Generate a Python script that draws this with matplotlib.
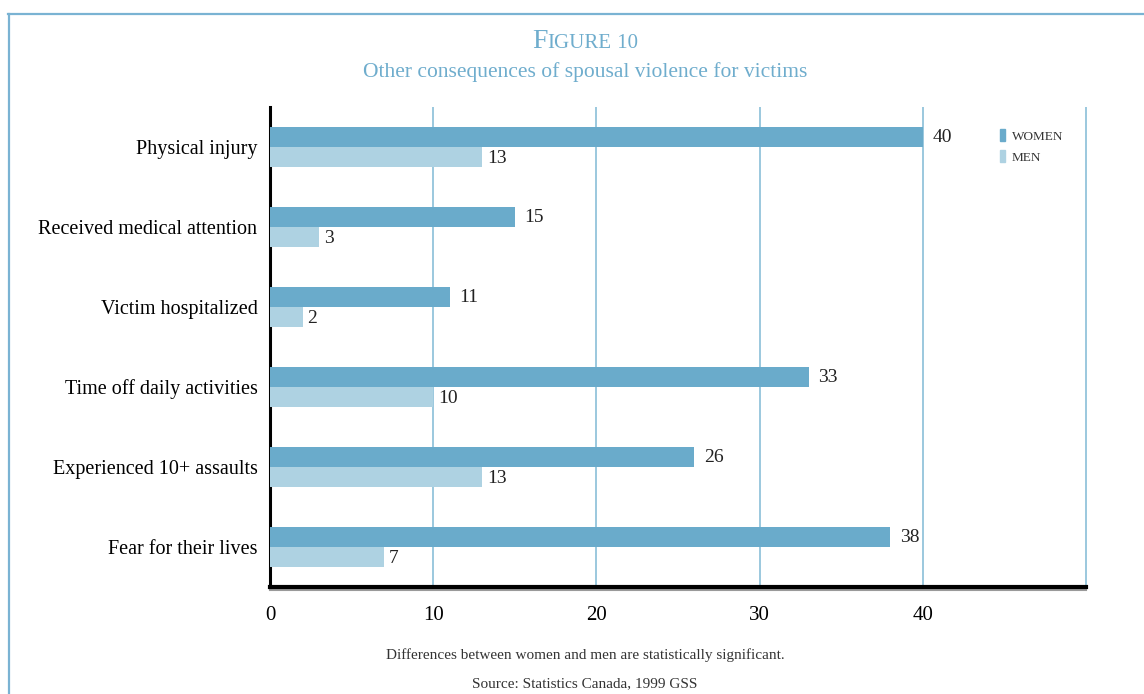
import matplotlib
matplotlib.use("Agg")
import matplotlib.pyplot as plt
from matplotlib.patches import Patch
from matplotlib.lines import Line2D

categories = [
    "Physical injury",
    "Received medical attention",
    "Victim hospitalized",
    "Time off daily activities",
    "Experienced 10+ assaults",
    "Fear for their lives",
]
women = [40, 15, 11, 33, 26, 38]
men = [13, 3, 2, 10, 13, 7]
x_ticks = [0, 10, 20, 30, 40]
grid_lines = [10, 20, 30, 40, 50]

WOMEN_COLOR = "#6aabcb"
MEN_COLOR = "#aed2e2"
ACCENT = "#6fadcd"
SERIF = ["Liberation Serif", "DejaVu Serif"]

plt.rcParams["font.family"] = SERIF

fig = plt.figure(figsize=(11.44, 6.94), dpi=100)
W, H = 1144, 694

# frame around the figure (top and left edges visible)
fig.add_artist(Line2D([8 / W, 1], [1 - 13.5 / H, 1 - 13.5 / H], color="#7ab3d3", lw=1.6))
fig.add_artist(Line2D([8.5 / W, 8.5 / W], [0, 1 - 13.5 / H], color="#7ab3d3", lw=1.6))

ax = fig.add_axes([270 / W, 1 - 587 / H, 816 / W, 480 / H])

ypos = list(range(len(categories)))
bh = 0.25
ax.barh([y - bh / 2 for y in ypos], women, height=bh, color=WOMEN_COLOR, zorder=3)
ax.barh([y + bh / 2 for y in ypos], men, height=bh, color=MEN_COLOR, zorder=3)

for y, v in zip(ypos, women):
    ax.annotate(str(v), (v, y - bh / 2), xytext=(7, 0), textcoords="offset points",
                va="center", ha="left", fontsize=14, color="#222222")
for y, v in zip(ypos, men):
    ax.annotate(str(v), (v, y + bh / 2), xytext=(3.5, -1), textcoords="offset points",
                va="center", ha="left", fontsize=14, color="#222222")

ax.vlines(grid_lines, -0.5, 5.5, colors="#80b9d5", lw=1.1, zorder=1, clip_on=False)

ax.set_xlim(0, 50)
ax.set_ylim(5.5, -0.5)
ax.set_yticks(ypos)
ax.set_yticklabels(categories, fontsize=14.5)
ax.set_xticks(x_ticks)
ax.set_xticklabels([str(t) for t in x_ticks], fontsize=15)
ax.tick_params(axis="both", length=0)
ax.tick_params(axis="x", pad=14)
ax.tick_params(axis="y", pad=9)
for side in ["top", "right"]:
    ax.spines[side].set_visible(False)
ax.spines["left"].set_linewidth(2.2)
ax.spines["bottom"].set_linewidth(3)
ax.spines["left"].set_color("black")
ax.spines["bottom"].set_color("black")
# soft grey shadow under the bottom axis line
ax.plot([0, 50], [5.535, 5.535], color="#9a9a9a", lw=1.5, zorder=0, clip_on=False)

leg = ax.legend(
    handles=[Patch(color=WOMEN_COLOR, label="WOMEN"), Patch(color=MEN_COLOR, label="MEN")],
    loc="upper left", bbox_to_anchor=(0.88, 0.978), frameon=False,
    fontsize=9.5, handlelength=0.4, handleheight=1.0, handletextpad=0.5,
    labelspacing=0.55,
)
for t in leg.get_texts():
    t.set_color("#333333")

# title in small caps, built from pieces
renderer = fig.canvas.get_renderer()
pieces = [("F", 20), ("IGURE", 15), (" 10", 15)]
texts = []
for s, fs in pieces:
    texts.append(fig.text(0, 1 - 48 / H, s, fontsize=fs, color=ACCENT, va="baseline"))
widths = [t.get_window_extent(renderer).width for t in texts]
x = 585 - sum(widths) / 2
for t, w in zip(texts, widths):
    t.set_x(x / W)
    x += w

fig.text(585 / W, 1 - 72 / H, "Other consequences of spousal violence for victims",
         fontsize=15.5, color=ACCENT, ha="center", va="center")

fig.text(585 / W, 1 - 655 / H,
         "Differences between women and men are statistically significant.",
         fontsize=11, color="#333333", ha="center", va="center")
fig.text(585 / W, 1 - 684 / H, "Source: Statistics Canada, 1999 GSS",
         fontsize=11, color="#333333", ha="center", va="center")

fig.savefig("out.png", dpi=100)
